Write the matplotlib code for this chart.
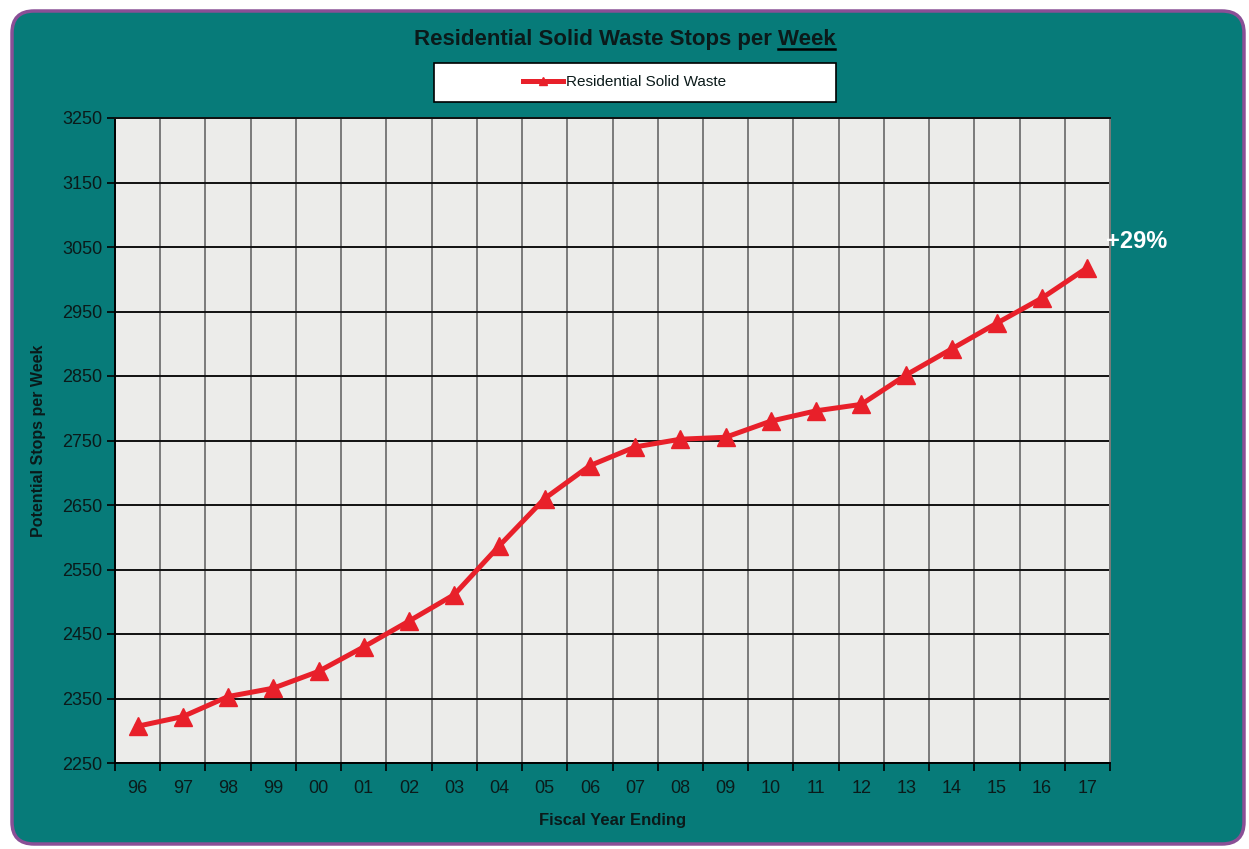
import matplotlib
matplotlib.use("Agg")
import matplotlib.pyplot as plt
from matplotlib.patches import FancyBboxPatch, Rectangle
from matplotlib.lines import Line2D
import numpy as np

years = ["96", "97", "98", "99", "00", "01", "02", "03", "04", "05", "06",
         "07", "08", "09", "10", "11", "12", "13", "14", "15", "16", "17"]
stops = [2307, 2322, 2353, 2366, 2392, 2430, 2470, 2511, 2587, 2660, 2711,
         2740, 2752, 2755, 2780, 2796, 2806, 2852, 2892, 2932, 2971, 3018]
yticks = [2250, 2350, 2450, 2550, 2650, 2750, 2850, 2950, 3050, 3150, 3250]

plt.rcParams['font.family'] = ['Liberation Sans', 'DejaVu Sans']

W, H = 1249, 849
fig = plt.figure(figsize=(W / 100, H / 100), dpi=100)
fig.patch.set_facecolor("white")

teal = "#077b79"
txt = "#0b1a1a"
panel = FancyBboxPatch((0.12, 0.05), 12.32, 8.33,
                       boxstyle="round,pad=0,rounding_size=0.22",
                       transform=fig.dpi_scale_trans,
                       facecolor=teal, edgecolor="#8a4f96", linewidth=2.5,
                       zorder=-10)
fig.patches.append(panel)

ax = fig.add_axes([115 / W, 1 - 763 / H, (1110 - 115) / W, (763 - 118) / H])
ax.set_facecolor("#ececea")

x = np.arange(len(years))
ax.plot(x, stops, color="#e8202a", linewidth=3.6, marker="^", markersize=13,
        markeredgecolor="#e8202a", zorder=5, label="Residential Solid Waste",
        clip_on=False)

ax.set_xlim(-0.5, len(years) - 0.5)
ax.set_ylim(2250, 3250)
ax.set_yticks(yticks)
ax.set_xticks(x)
ax.set_xticklabels(years)
ax.set_xticks(np.arange(-0.5, len(years), 1.0), minor=True)

ax.tick_params(axis="x", which="major", length=0, pad=12, labelsize=13,
               labelcolor=txt)
ax.tick_params(axis="x", which="minor", length=6, width=1.2, direction="out",
               color="black")
ax.tick_params(axis="y", which="major", length=6, width=1.2, direction="out",
               labelsize=13, labelcolor=txt, color="black", pad=3)

ax.grid(axis="y", which="major", color="#111111", linewidth=1.4, zorder=1)
ax.grid(axis="x", which="minor", color="#7a7a7a", linewidth=1.4, zorder=1)
ax.set_axisbelow(True)

for s in ["left", "bottom"]:
    ax.spines[s].set_color("black")
    ax.spines[s].set_linewidth(1.4)
ax.spines["top"].set_color("#111111")
ax.spines["top"].set_linewidth(1.4)
ax.spines["right"].set_color("#7a7a7a")
ax.spines["right"].set_linewidth(1.4)

ax.set_ylabel("Potential Stops per Week", fontsize=11.5, fontweight="bold",
              color=txt)
ax.yaxis.set_label_coords(-0.069, 0.5)
ax.set_xlabel("Fiscal Year Ending", fontsize=12, fontweight="bold",
              color=txt, labelpad=12)

# Title with underlined "Week"
title_y = 1 - 39 / H
fs_title = 16
t_main = fig.text(0.5, title_y, "Residential Solid Waste Stops per Week",
                  ha="center", va="center", fontsize=fs_title,
                  fontweight="bold", color=txt)
fig.canvas.draw()
r = fig.canvas.get_renderer()
bb = t_main.get_window_extent(renderer=r)
tw = fig.text(0, 0, "Week", fontsize=fs_title, fontweight="bold", alpha=0)
wb = tw.get_window_extent(renderer=r)
x1 = bb.x1 / W
x0 = (bb.x1 - wb.width) / W
uy = (bb.y0 + 1) / H
fig.add_artist(Line2D([x0, x1], [uy, uy], transform=fig.transFigure,
                      color="black", linewidth=1.8))

# Legend box
fig.patches.append(Rectangle((434 / W, 1 - 102 / H), (836 - 434) / W, 39 / H,
                             transform=fig.transFigure, facecolor="white",
                             edgecolor="black", linewidth=1.2, zorder=-5))
leg = fig.legend(loc="center", bbox_to_anchor=(0.5, 1 - 82.5 / H),
                 frameon=False, fontsize=11, handlelength=2.6,
                 handletextpad=0.2, markerscale=0.45)
for t in leg.get_texts():
    t.set_color(txt)

# Annotation
ax.annotate("+29%", xy=(1, stops[-1]), xycoords=("axes fraction", "data"),
            xytext=(-3, 19), textcoords="offset points", ha="left",
            va="center", fontsize=17, fontweight="bold", color="white",
            annotation_clip=False)

fig.savefig("out.png", dpi=100, facecolor=fig.get_facecolor())
